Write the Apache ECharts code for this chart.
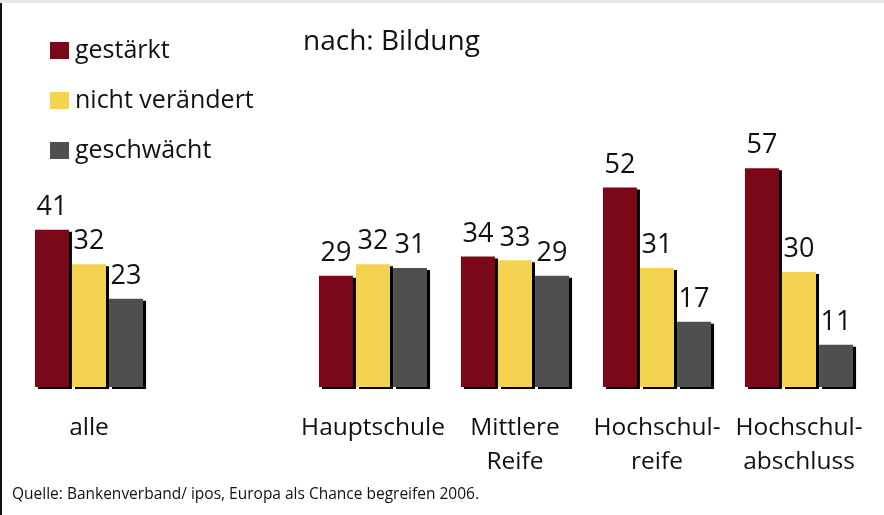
<!DOCTYPE html>
<html>
<head>
<meta charset="utf-8">
<script src="https://cdn.jsdelivr.net/npm/echarts@6/dist/echarts.min.js"></script>
<style>
  html, body { margin: 0; padding: 0; background: #fff; }
  #main { width: 884px; height: 515px; }
</style>
</head>
<body>
<div id="main"></div>
<script>
// Kategorien (leere Kategorie als Abstand nach "alle")
const categories = ['alle', '', 'Hauptschule', 'Mittlere\nReife', 'Hochschul-\nreife', 'Hochschul-\nabschluss']
const gestaerkt = [41, null, 29, 34, 52, 57]
const nichtVeraendert = [32, null, 32, 33, 31, 30]
const geschwaecht = [23, null, 31, 29, 17, 11]

const seriesNames = ['gestärkt', 'nicht verändert', 'geschwächt']
const colors = ['#7a0819', '#f4d350', '#4f4f4f']
const fontFamily = '"Open Sans", "Noto Sans", sans-serif'

let myChart = echarts.init(document.getElementById('main'))

function makeSeries (name, data) {
  return {
    name: name,
    type: 'bar',
    data: data,
    barWidth: 34,
    barGap: '9%',
    itemStyle: {
      shadowColor: '#000',
      shadowBlur: 0,
      shadowOffsetX: 3,
      shadowOffsetY: 2
    },
    label: {
      show: true,
      position: 'top',
      distance: 9,
      color: '#111',
      fontSize: 27,
      fontFamily: fontFamily
    }
  }
}

let option = {
  color: colors,
  animation: false,
  grid: {
    left: 18,
    right: 14,
    top: 80,
    bottom: 128
  },
  title: {
    text: 'nach: Bildung',
    left: 303,
    top: 28,
    padding: 0,
    textStyle: {
      color: '#111',
      fontSize: 28,
      fontWeight: 'normal',
      fontFamily: fontFamily
    }
  },
  legend: {
    data: seriesNames,
    orient: 'vertical',
    left: 50,
    top: 38,
    padding: 0,
    itemGap: 25,
    itemWidth: 19,
    itemHeight: 17,
    icon: 'rect',
    textStyle: {
      color: '#111',
      fontSize: 25,
      fontFamily: fontFamily,
      padding: [0, 0, 0, 1]
    }
  },
  xAxis: {
    type: 'category',
    data: categories,
    axisLine: { show: false },
    axisTick: { show: false },
    axisLabel: {
      color: '#111',
      fontSize: 24.5,
      lineHeight: 34,
      margin: 24,
      interval: 0,
      fontFamily: fontFamily
    }
  },
  yAxis: {
    type: 'value',
    min: 0,
    max: 80,
    show: false,
    splitLine: { show: false }
  },
  graphic: [
    { type: 'rect', shape: { x: 0, y: 0, width: 884, height: 3 }, style: { fill: '#e8e8e8' } },
    { type: 'rect', shape: { x: 0, y: 3, width: 2, height: 512 }, style: { fill: '#111' } },
    {
      type: 'text',
      left: 12,
      top: 487,
      style: {
        text: 'Quelle: Bankenverband/ ipos, Europa als Chance begreifen 2006.',
        fill: '#111',
        fontSize: 15.5,
        fontFamily: fontFamily
      }
    }
  ],
  series: [
    makeSeries(seriesNames[0], gestaerkt),
    makeSeries(seriesNames[1], nichtVeraendert),
    makeSeries(seriesNames[2], geschwaecht)
  ]
}
myChart.setOption(option)
</script>
</body>
</html>
